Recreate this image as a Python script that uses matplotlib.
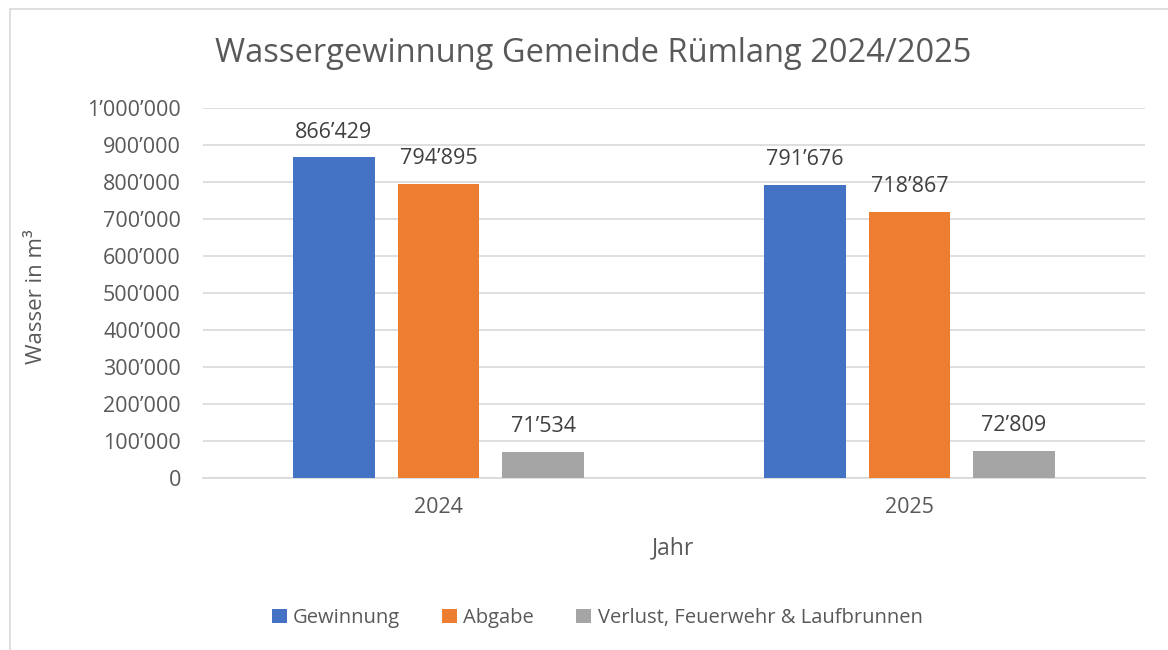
import matplotlib
matplotlib.use("Agg")
import matplotlib.pyplot as plt
from matplotlib.patches import Rectangle
from matplotlib.ticker import FuncFormatter
import numpy as np

years = ["2024", "2025"]
series_names = ["Gewinnung", "Abgabe", "Verlust, Feuerwehr & Laufbrunnen"]
gewinnung = [866429, 791676]
abgabe = [794895, 718867]
verlust = [71534, 72809]
colors = ["#4472C4", "#ED7D31", "#A5A5A5"]

plt.rcParams['font.family'] = ['Open Sans', 'DejaVu Sans']
txt = "#595959"

fig = plt.figure(figsize=(11.68, 6.5), dpi=100)
W, H = 1168, 650
# outer chart frame
fig.add_artist(Rectangle((10/W, -0.1), 1.2, (650-9)/H + 0.1, transform=fig.transFigure,
                         fill=False, edgecolor="#D9D9D9", linewidth=1.2))

ax = fig.add_axes([203/W, 1-478/H, (1145-203)/W, (478-108)/H])

def fmt(v):
    return f"{int(v):,}".replace(",", "\u2019")

x = np.arange(len(years))
bw = 0.174
off = 0.222
data = [gewinnung, abgabe, verlust]
for i, (vals, c, name) in enumerate(zip(data, colors, series_names)):
    bars = ax.bar(x + (i-1)*off, vals, width=bw, color=c, label=name, zorder=3)
    for b, v in zip(bars, vals):
        ax.text(b.get_x() + b.get_width()/2, v + 40000, fmt(v), ha="center", va="bottom",
                fontsize=15.5, color="#404040")

ax.set_xlim(-0.5, 1.5)
ax.set_ylim(0, 1000000)
ax.set_yticks(np.arange(0, 1000001, 100000))
ax.yaxis.set_major_formatter(FuncFormatter(lambda v, p: fmt(v)))
ax.set_xticks(x)
ax.set_xticklabels(years)
ax.grid(axis="y", color="#D9D9D9", linewidth=1.2, zorder=0)
for s in ["top", "right", "left"]:
    ax.spines[s].set_visible(False)
ax.spines["bottom"].set_color("#D9D9D9")
ax.spines["bottom"].set_linewidth(1.2)
ax.tick_params(axis="both", length=0, labelsize=15.5, colors=txt)
ax.tick_params(axis="y", pad=16)
ax.tick_params(axis="x", pad=14)

fig.text(593/W, 1-53/H, "Wassergewinnung Gemeinde Rümlang 2024/2025", ha="center", va="center",
         fontsize=23.5, color=txt)
fig.text(673/W, 1-548/H, "Jahr", ha="center", va="center", fontsize=16.5, color=txt)
fig.text(37/W, 1-297/H, "Wasser in m³", ha="center", va="center", rotation=90, fontsize=16, color=txt)

leg = fig.legend(loc="center", bbox_to_anchor=(597/W, 1-618/H), ncol=3, frameon=False,
                 fontsize=14.5, handlelength=0.75, handleheight=0.75, handletextpad=0.3,
                 columnspacing=2.1, labelcolor=txt)

fig.savefig("out.png", dpi=100)
